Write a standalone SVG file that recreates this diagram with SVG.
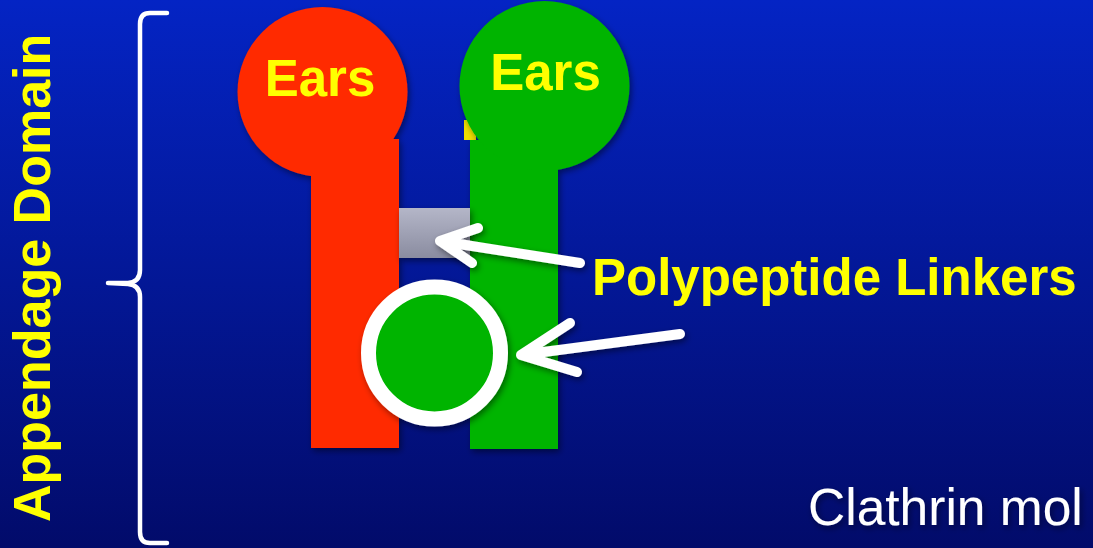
<svg xmlns="http://www.w3.org/2000/svg" width="1093" height="548" viewBox="0 0 1093 548">
<defs>
<linearGradient id="bg" x1="0" y1="0" x2="0" y2="1">
<stop offset="0" stop-color="#0424c4"/>
<stop offset="1" stop-color="#020b6a"/>
</linearGradient>
<linearGradient id="linker" x1="0" y1="0" x2="0" y2="1">
<stop offset="0" stop-color="#b4b6c8"/>
<stop offset="1" stop-color="#8a8ca0"/>
</linearGradient>
<filter id="sh" x="-20%" y="-20%" width="140%" height="140%">
<feDropShadow dx="2" dy="3" stdDeviation="3" flood-color="#000" flood-opacity="0.45"/>
</filter>
<style>
.lbl{font-family:"Liberation Sans",Arial,sans-serif;font-weight:bold;fill:#ffff00;}
.arrow{fill:none;stroke:#ffffff;stroke-width:10;stroke-linecap:round;stroke-linejoin:round;}
</style>
</defs>
<rect width="1093" height="548" fill="url(#bg)"/>

<g id="brace">
<path d="M167 13 L150 13 Q140 13 140 24 L140 270 Q140 282 128 283 L108 283 L128 284 Q140 285 140 297 L140 532 Q140 543 150 543 L167 543" fill="none" stroke="#ffffff" stroke-width="4.5" stroke-linecap="round" stroke-linejoin="round"/>
</g>
<g id="appendage-label">
<text class="lbl" font-size="52" transform="translate(50,522) rotate(-90)">Appendage Domain</text>
</g>

<g id="yellow-piece"><rect x="464" y="120" width="12" height="20" fill="#f0e000"/></g>

<g id="red-chain" filter="url(#sh)">
<rect x="311" y="139" width="88" height="309" fill="#ff2a00"/>
<circle cx="322.5" cy="92" r="85" fill="#ff2a00"/>
<text class="lbl" x="320" y="96" font-size="51" text-anchor="middle">Ears</text>
</g>

<g id="green-chain" filter="url(#sh)">
<rect x="470" y="140" width="88" height="309" fill="#00b400"/>
<circle cx="544.5" cy="86" r="85" fill="#00b400"/>
<text class="lbl" x="545.5" y="90" font-size="51" text-anchor="middle">Ears</text>
</g>

<g id="linker" filter="url(#sh)">
<rect x="399" y="208" width="71" height="50" fill="url(#linker)"/>
</g>

<g id="ring" filter="url(#sh)">
<circle cx="434.5" cy="353" r="66" fill="#00b400" stroke="#ffffff" stroke-width="15"/>
</g>

<g id="connectors" filter="url(#sh)">
<path class="arrow" d="M580 263 L440 241 M478 228 L440 241 L472 263"/>
<path class="arrow" d="M680 334 L521 355 M570 323 L521 355 L577 372"/>
</g>

<g id="polypeptide-label">
<text class="lbl" x="592" y="295" font-size="51">Polypeptide Linkers</text>
</g>

<g id="clathrin-label">
<text x="808" y="525" font-family="'Liberation Sans',Arial,sans-serif" font-size="51.5" fill="#ffffff" filter="url(#sh)">Clathrin mol</text>
</g>
</svg>
